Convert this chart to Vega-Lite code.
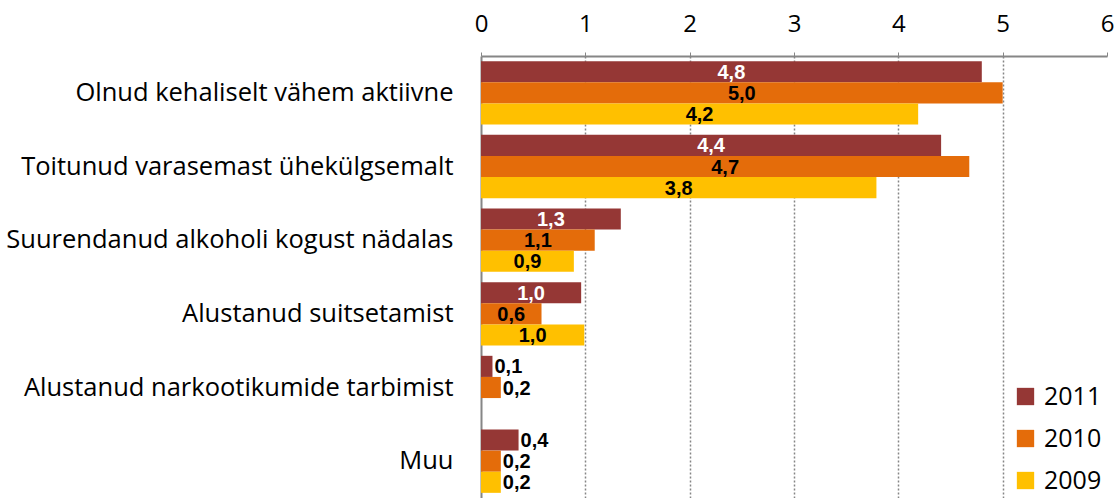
{
  "$schema": "https://vega.github.io/schema/vega-lite/v6.json",
  "width": 626,
  "height": 442,
  "autosize": {"type": "none"},
  "padding": {"left": 481, "top": 56, "right": 10, "bottom": 0},
  "background": "white",
  "data": {
    "values": [
      {"category": "Olnud kehaliselt vähem aktiivne", "year": "2011", "value": 4.8},
      {"category": "Olnud kehaliselt vähem aktiivne", "year": "2010", "value": 5.0},
      {"category": "Olnud kehaliselt vähem aktiivne", "year": "2009", "value": 4.19},
      {"category": "Toitunud varasemast ühekülgsemalt", "year": "2011", "value": 4.41},
      {"category": "Toitunud varasemast ühekülgsemalt", "year": "2010", "value": 4.68},
      {"category": "Toitunud varasemast ühekülgsemalt", "year": "2009", "value": 3.79},
      {"category": "Suurendanud alkoholi kogust nädalas", "year": "2011", "value": 1.34},
      {"category": "Suurendanud alkoholi kogust nädalas", "year": "2010", "value": 1.09},
      {"category": "Suurendanud alkoholi kogust nädalas", "year": "2009", "value": 0.89},
      {"category": "Alustanud suitsetamist", "year": "2011", "value": 0.96},
      {"category": "Alustanud suitsetamist", "year": "2010", "value": 0.58},
      {"category": "Alustanud suitsetamist", "year": "2009", "value": 0.99},
      {"category": "Alustanud narkootikumide tarbimist", "year": "2011", "value": 0.11},
      {"category": "Alustanud narkootikumide tarbimist", "year": "2010", "value": 0.19},
      {"category": "Muu", "year": "2011", "value": 0.36},
      {"category": "Muu", "year": "2010", "value": 0.19},
      {"category": "Muu", "year": "2009", "value": 0.19}
    ]
  },
  "encoding": {
    "y": {
      "field": "category",
      "type": "nominal",
      "sort": null,
      "scale": {"paddingInner": 0.14, "paddingOuter": 0.07},
      "axis": {
        "title": null,
        "labelFont": "Open Sans",
        "labelFontSize": 25.5,
        "labelColor": "black",
        "labelPadding": 28,
        "labelLimit": 500,
        "ticks": false,
        "domainColor": "#868686",
        "domainWidth": 2
      }
    },
    "yOffset": {
      "field": "year",
      "type": "nominal",
      "sort": ["2011", "2010", "2009"]
    }
  },
  "layer": [
    {
      "mark": {"type": "bar"},
      "encoding": {
        "x": {
          "field": "value",
          "type": "quantitative",
          "scale": {"domain": [0, 6], "nice": false, "zero": true},
          "axis": {
            "orient": "top",
            "title": null,
            "values": [0, 1, 2, 3, 4, 5, 6],
            "labelFlush": false,
            "labelFont": "Open Sans",
            "labelFontSize": 24,
            "labelColor": "black",
            "labelPadding": 16,
            "tickSize": 4,
            "tickColor": "#868686",
            "domainColor": "#868686",
            "domainWidth": 2,
            "grid": true,
            "gridColor": "#868686",
            "gridDash": [2, 2],
            "gridWidth": 1.5,
            "gridOpacity": {"condition": {"test": "datum.value == 6 || datum.value == 0", "value": 0}, "value": 1}
          }
        },
        "color": {
          "field": "year",
          "type": "nominal",
          "sort": ["2011", "2010", "2009"],
          "scale": {"domain": ["2011", "2010", "2009"], "range": ["#953735", "#E46C0A", "#FFC000"]},
          "legend": {
            "title": null,
            "orient": "none",
            "legendX": 532,
            "legendY": 328,
            "symbolType": "square",
            "symbolSize": 300,
            "symbolStrokeWidth": 0,
            "labelFont": "Open Sans",
            "labelFontSize": 25,
            "labelColor": "black",
            "labelOffset": 6,
            "rowPadding": 16,
            "fillColor": "white"
          }
        }
      }
    },
    {
      "transform": [{"filter": "datum.value >= 0.5"}],
      "mark": {"type": "text", "align": "center", "baseline": "middle", "font": "Liberation Sans", "fontWeight": "bold", "fontSize": 20, "dy": 1},
      "encoding": {
        "x": {
          "field": "value",
          "type": "quantitative",
          "scale": {"domain": [0, 12], "nice": false, "zero": true},
          "axis": null
        },
        "text": {"field": "value", "type": "quantitative", "format": ".1f"},
        "color": {"condition": {"test": "datum.year == '2011'", "value": "white"}, "value": "black"}
      }
    },
    {
      "transform": [{"filter": "datum.value < 0.5"}],
      "mark": {"type": "text", "align": "left", "baseline": "middle", "font": "Liberation Sans", "fontWeight": "bold", "fontSize": 20, "dx": 2, "dy": 1, "color": "black"},
      "encoding": {
        "x": {
          "field": "value",
          "type": "quantitative",
          "scale": {"domain": [0, 6], "nice": false, "zero": true},
          "axis": null
        },
        "text": {"field": "value", "type": "quantitative", "format": ".1f"}
      }
    }
  ],
  "resolve": {"scale": {"x": "independent"}},
  "config": {
    "view": {"stroke": null},
    "locale": {"number": {"decimal": ",", "thousands": " ", "grouping": [3], "currency": ["", " €"]}}
  }
}
